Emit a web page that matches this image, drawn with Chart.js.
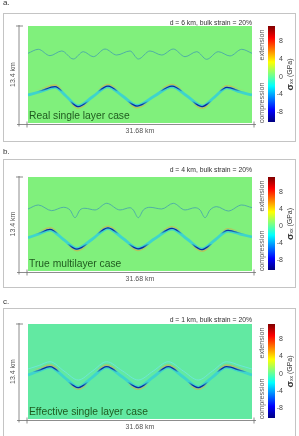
<!DOCTYPE html>
<html>
<head>
<meta charset="utf-8">
<script src="https://cdn.jsdelivr.net/npm/chart.js@4.4.1/dist/chart.umd.min.js"></script>
<style>
  html, body { margin: 0; padding: 0; background: #fff; }
  #wrap { position: relative; width: 299px; height: 436px; overflow: hidden; }
  canvas { position: absolute; left: 0; }
</style>
</head>
<body>
<div id="wrap">
  <canvas id="panel-a" width="299" height="145" style="top:0px"></canvas>
  <canvas id="panel-b" width="299" height="145" style="top:145px"></canvas>
  <canvas id="panel-c" width="299" height="146" style="top:290px"></canvas>
</div>
<script>
// model box size (km)
const xExtent = 31.68;
const yExtent = 13.4;

const panelLetters = ['a.', 'b.', 'c.'];
const panelNotes = ['d = 6 km, bulk strain = 20%', 'd = 4 km, bulk strain = 20%', 'd = 1 km, bulk strain = 20%'];
const caseNames = ['Real single layer case', 'True multilayer case', 'Effective single layer case'];
const xLabel = '31.68 km';
const yLabel = '13.4 km';

// colour bar
const cbTicks = [8, 4, 0, -4, -8];
const cbMin = -10.3;
const cbMax = 11.5;

// a. real single layer case (km)
const aUpperX = [0, 1.46, 3.11, 4.77, 6.41, 7.82, 9.24, 10.89, 12.54, 14.43, 15.60, 17.25, 18.91, 20.55, 22.21, 23.86, 25.27, 26.92, 28.57, 30.23, 31.68];
const aUpperY = [9.63, 10.18, 9.30, 9.95, 8.84, 9.85, 9.16, 10.22, 9.39, 9.95, 8.84, 9.95, 9.39, 10.22, 9.16, 9.85, 8.80, 9.85, 9.26, 10.18, 9.63];
const aLowerX = [0, 1.84, 3.82, 5.44, 7.07, 9.19, 11.31, 13.37, 15.42, 17.89, 20.37, 22.49, 24.61, 26.38, 28.14, 29.98, 31.68];
const aLowerY = [3.87, 4.35, 4.93, 3.66, 2.35, 3.66, 5.01, 3.73, 2.42, 3.73, 5.01, 3.73, 2.35, 3.59, 4.84, 4.28, 3.87];

// b. true multilayer case
const bUpperX = [0, 1.46, 3.35, 4.99, 5.94, 6.65, 7.35, 8.06, 9.48, 11.13, 13.01, 14.43, 14.89, 15.60, 16.31, 17.25, 18.91, 20.55, 22.21, 23.62, 24.33, 25.04, 25.74, 26.69, 28.33, 30.23, 31.68];
const bUpperY = [8.84, 9.41, 8.60, 9.08, 8.70, 7.60, 8.70, 8.94, 8.70, 9.65, 8.70, 9.02, 8.70, 7.60, 8.70, 9.08, 8.84, 9.65, 8.70, 9.02, 8.70, 7.60, 8.70, 9.17, 8.55, 9.41, 9.02];
const bLowerX = [0, 1.56, 3.11, 5.02, 6.93, 9.12, 11.31, 13.44, 15.56, 17.96, 20.37, 22.49, 24.61, 26.45, 28.29, 29.98, 31.68];
const bLowerY = [4.75, 5.27, 5.84, 4.49, 3.21, 4.56, 6.06, 4.63, 3.24, 4.63, 5.99, 4.56, 3.14, 4.42, 5.70, 5.27, 4.85];

// c. effective single layer case
const cLayerX = [0, 1.56, 3.11, 5.09, 7.11, 9.12, 11.13, 13.37, 15.60, 17.72, 19.84, 21.96, 24.08, 26.09, 28.10, 29.98, 31.68];
const cUpperY = [7.05, 7.55, 8.08, 6.77, 5.50, 6.77, 8.08, 6.77, 5.50, 6.77, 8.08, 6.77, 5.50, 6.77, 8.08, 7.55, 7.05];
const cLowerY = [6.21, 6.77, 7.29, 5.92, 4.51, 5.92, 7.29, 5.92, 4.51, 5.92, 7.29, 5.92, 4.51, 5.92, 7.29, 6.77, 6.21];

const FONT = "'Liberation Sans', Arial, sans-serif";

function pts(xs, ys) {
    return xs.map((x, i) => ({ x: x, y: ys[i] }));
}

// vertical gradient that is coloured only at the crest or trough level of a layer
function hingeGradient(chart, ys, rgb, alpha, side) {
    const { ctx, chartArea, scales } = chart;
    if (!chartArea) return 'rgba(0,0,0,0)';
    const top = scales.y.getPixelForValue(Math.max(...ys)) - 3;
    const bot = scales.y.getPixelForValue(Math.min(...ys)) + 3;
    const g = ctx.createLinearGradient(0, top, 0, bot);
    const on = 'rgba(' + rgb + ',' + alpha + ')';
    const off = 'rgba(' + rgb + ',0)';
    if (side === 'crest') {
        g.addColorStop(0, on); g.addColorStop(0.2, on); g.addColorStop(0.34, off); g.addColorStop(1, off);
    } else {
        g.addColorStop(0, off); g.addColorStop(0.66, off); g.addColorStop(0.8, on); g.addColorStop(1, on);
    }
    return g;
}

function thinLine(xs, ys, color, width) {
    return { data: pts(xs, ys), order: 0, borderColor: color, borderWidth: width, pointRadius: 0, cubicInterpolationMode: 'monotone' };
}

// competent layer: cyan band, dark blue on the outer arcs, faint orange halo outside the hinges
function layerSets(xs, ys) {
    const base = () => ({ data: pts(xs, ys), pointRadius: 0, cubicInterpolationMode: 'monotone' });
    return [
        Object.assign(base(), { order: 1, borderWidth: 1.3, shiftY: -0.6, borderColor: c => hingeGradient(c.chart, ys, '15,40,160', 1, 'crest') }),
        Object.assign(base(), { order: 1, borderWidth: 1.3, shiftY: 0.6, borderColor: c => hingeGradient(c.chart, ys, '15,40,160', 1, 'trough') }),
        Object.assign(base(), { order: 2, borderWidth: 2.8, borderColor: '#3ed4cc' }),
        Object.assign(base(), { order: 3, borderWidth: 1.5, shiftY: -2.2, borderColor: c => hingeGradient(c.chart, ys, '222,165,70', 0.6, 'crest') }),
        Object.assign(base(), { order: 3, borderWidth: 1.5, shiftY: 2.2, borderColor: c => hingeGradient(c.chart, ys, '222,165,70', 0.6, 'trough') })
    ];
}

const shiftPlugin = {
    id: 'shift',
    beforeDatasetDraw(chart, args) {
        const dy = chart.data.datasets[args.index].shiftY;
        if (dy) { chart.ctx.save(); chart.ctx.translate(0, dy); }
    },
    afterDatasetDraw(chart, args) {
        if (chart.data.datasets[args.index].shiftY) chart.ctx.restore();
    }
};

function jet(ctx, top, bottom) {
    const g = ctx.createLinearGradient(0, bottom, 0, top);
    g.addColorStop(0, '#00007f');
    g.addColorStop(0.125, '#0000ff');
    g.addColorStop(0.375, '#00ffff');
    g.addColorStop(0.5, '#80ff80');
    g.addColorStop(0.625, '#ffff00');
    g.addColorStop(0.875, '#ff0000');
    g.addColorStop(1, '#7f0000');
    return g;
}

const decorPlugin = {
    id: 'decor',
    beforeDraw(chart, args, o) {
        const { ctx, chartArea: a } = chart;
        ctx.save();
        ctx.fillStyle = o.bg;
        ctx.fillRect(a.left, a.top, a.right - a.left, a.bottom - a.top);
        ctx.restore();
    },
    afterDraw(chart, args, o) {
        const { ctx, chartArea: a } = chart;
        ctx.save();

        // panel frame
        ctx.strokeStyle = '#c4c4c4';
        ctx.lineWidth = 1;
        ctx.strokeRect(3.5, o.frameTop, 292, o.frameBottom - o.frameTop);

        ctx.textBaseline = 'middle';
        ctx.fillStyle = '#333';
        ctx.font = '8px ' + FONT;
        ctx.textAlign = 'left';
        ctx.fillText(o.letter, 3, o.letterY);

        ctx.font = '6.8px ' + FONT;
        ctx.textAlign = 'right';
        ctx.fillText(o.note, a.right, o.noteY);

        ctx.font = '10.3px ' + FONT;
        ctx.textAlign = 'left';
        ctx.fillStyle = '#1f5a1f';
        ctx.fillText(o.caseName, a.left + 1, a.bottom - 6.5);

        // scale bars
        ctx.strokeStyle = '#707070';
        ctx.lineWidth = 0.8;
        const sx = a.left - 9, sy = a.bottom + 1.5;
        ctx.beginPath();
        ctx.moveTo(sx, a.top - 1); ctx.lineTo(sx, sy + 2);
        ctx.moveTo(sx - 3, a.top); ctx.lineTo(sx + 4, a.top);
        ctx.moveTo(sx - 2, sy); ctx.lineTo(a.right + 4, sy);
        ctx.moveTo(a.left - 1, sy - 3); ctx.lineTo(a.left - 1, sy + 3);
        ctx.moveTo(a.right + 2, sy - 3); ctx.lineTo(a.right + 2, sy + 3);
        ctx.stroke();

        ctx.fillStyle = '#555';
        ctx.font = '7px ' + FONT;
        ctx.textAlign = 'center';
        ctx.fillText(xLabel, (a.left + a.right) / 2, a.bottom + 8);
        ctx.save();
        ctx.translate(13, (a.top + a.bottom) / 2);
        ctx.rotate(-Math.PI / 2);
        ctx.fillText(yLabel, 0, 0);
        ctx.restore();

        // colour bar
        const cx = a.right + 16, cw = 7, ct = a.top, cb = a.bottom - 1;
        ctx.fillStyle = jet(ctx, ct, cb);
        ctx.fillRect(cx, ct, cw, cb - ct);
        ctx.fillStyle = '#444';
        ctx.textAlign = 'right';
        ctx.font = '7px ' + FONT;
        cbTicks.forEach(v => {
            const y = cb - (v - cbMin) / (cbMax - cbMin) * (cb - ct);
            ctx.fillText(String(v), cx + 15, y);
        });

        ctx.fillStyle = '#555';
        ctx.font = '7.2px ' + FONT;
        ctx.textAlign = 'center';
        [['extension', a.top + 19], ['compression', a.bottom - 20]].forEach(([t, y]) => {
            ctx.save();
            ctx.translate(cx - 6, y);
            ctx.rotate(-Math.PI / 2);
            ctx.fillText(t, 0, 0);
            ctx.restore();
        });

        // sigma_xx (GPa)
        ctx.save();
        ctx.translate(cx + 22, (a.top + a.bottom) / 2);
        ctx.rotate(-Math.PI / 2);
        ctx.textAlign = 'left';
        ctx.fillStyle = '#333';
        const parts = [['\u03c3', 'bold 9.5px ' + FONT, 0], ['xx', '5px ' + FONT, 1.8], [' (GPa)', '7px ' + FONT, 0]];
        let total = 0;
        parts.forEach(p => { ctx.font = p[1]; total += ctx.measureText(p[0]).width; });
        let x = -total / 2;
        parts.forEach(p => {
            ctx.font = p[1];
            ctx.fillText(p[0], x, p[2]);
            x += ctx.measureText(p[0]).width;
        });
        ctx.restore();

        ctx.restore();
    }
};

function makePanel(id, i, datasets, decor, padding) {
    decor.letter = panelLetters[i];
    decor.note = panelNotes[i];
    decor.caseName = caseNames[i];
    return new Chart(document.getElementById(id), {
        type: 'line',
        data: { datasets: datasets },
        options: {
            responsive: false,
            animation: false,
            events: [],
            layout: { padding: padding },
            scales: {
                x: { type: 'linear', min: 0, max: xExtent, display: false },
                y: { type: 'linear', min: 0, max: yExtent, display: false }
            },
            plugins: {
                legend: { display: false },
                tooltip: { enabled: false },
                decor: decor
            }
        },
        plugins: [shiftPlugin, decorPlugin]
    });
}

makePanel('panel-a', 0,
    [thinLine(aUpperX, aUpperY, '#4aa8a8', 0.9)].concat(layerSets(aLowerX, aLowerY)),
    { bg: '#80f07c', frameTop: 13.5, frameBottom: 141.5, letterY: 3, noteY: 23 },
    { left: 28, right: 47, top: 26, bottom: 22 });

makePanel('panel-b', 1,
    [thinLine(bUpperX, bUpperY, '#4aa8a8', 0.9)].concat(layerSets(bLowerX, bLowerY)),
    { bg: '#80f07c', frameTop: 14.5, frameBottom: 142.5, letterY: 7, noteY: 25 },
    { left: 28, right: 47, top: 32, bottom: 19 });

makePanel('panel-c', 2,
    [thinLine(cLayerX, cUpperY, 'rgba(110,230,225,0.85)', 1)].concat(layerSets(cLayerX, cLowerY)),
    { bg: '#62e9a2', frameTop: 18.5, frameBottom: 160, letterY: 12, noteY: 30 },
    { left: 28, right: 47, top: 34, bottom: 17 });
</script>
</body>
</html>
